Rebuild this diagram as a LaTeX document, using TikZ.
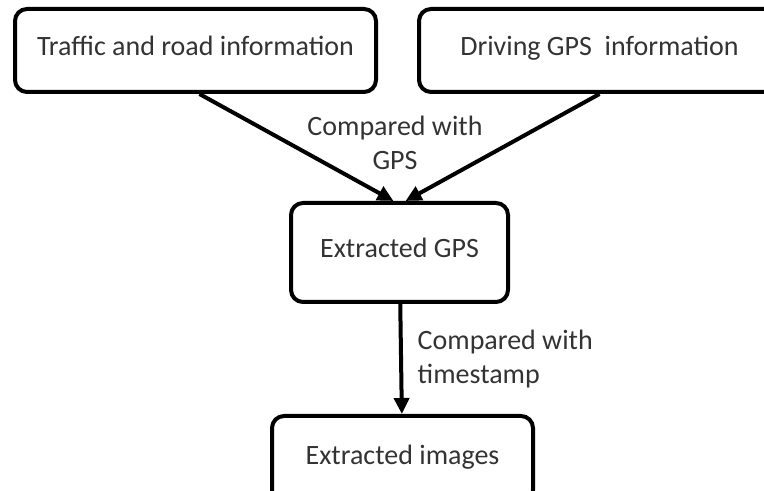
\documentclass[tikz,border=0pt]{standalone}
\usepackage{fontspec}
\setmainfont{Carlito}
\usepackage{tikz}
\usetikzlibrary{positioning,arrows.meta}

\begin{document}
\begin{tikzpicture}[
            x=0.5pt, y=0.5pt,
            infobox/.style={
                rectangle, rounded corners=6pt, line width=2pt,
                draw=black, text=black!80,
                text height=1.6ex, text depth=.45ex,
                font=\fontsize{14}{17}\selectfont
            },
            flow/.style={-{Triangle[length=8pt,width=7.5pt]}, line width=2pt},
            steplabel/.style={text=black!80, font=\fontsize{14}{17}\selectfont},
        ]

            \useasboundingbox (0,0) rectangle (764,491);
            \clip (0,0) rectangle (764,491);

            \node [infobox, minimum width=180.5pt, minimum height=41.5pt] (traffic) at (195.5,440.5) {Traffic and road information};
            \node [infobox, minimum width=180.5pt, minimum height=41.5pt] (driving) [ right= 19.5pt of traffic ] {Driving GPS~ information};

            \node [infobox, minimum width=108.5pt, minimum height=49.5pt] (gps) at (399.5,238.5) {Extracted GPS};
            \node [infobox, minimum width=130.5pt, minimum height=43pt] (images) [ below= 55pt of gps, xshift=1.5pt ] {Extracted images};

            \draw[flow] ([xshift=2pt]traffic.south) -- ([xshift=-3pt]gps.north);
            \draw[flow] (driving.south) -- ([xshift=3pt]gps.north);
            \node [steplabel, align=center] (gpslabel) at (395,348.5) {Compared with\\GPS};

            \draw[flow] (gps) -- (images) node [steplabel, align=left, right=4pt, midway] {Compared with\\timestamp};

        \end{tikzpicture}
\end{document}
